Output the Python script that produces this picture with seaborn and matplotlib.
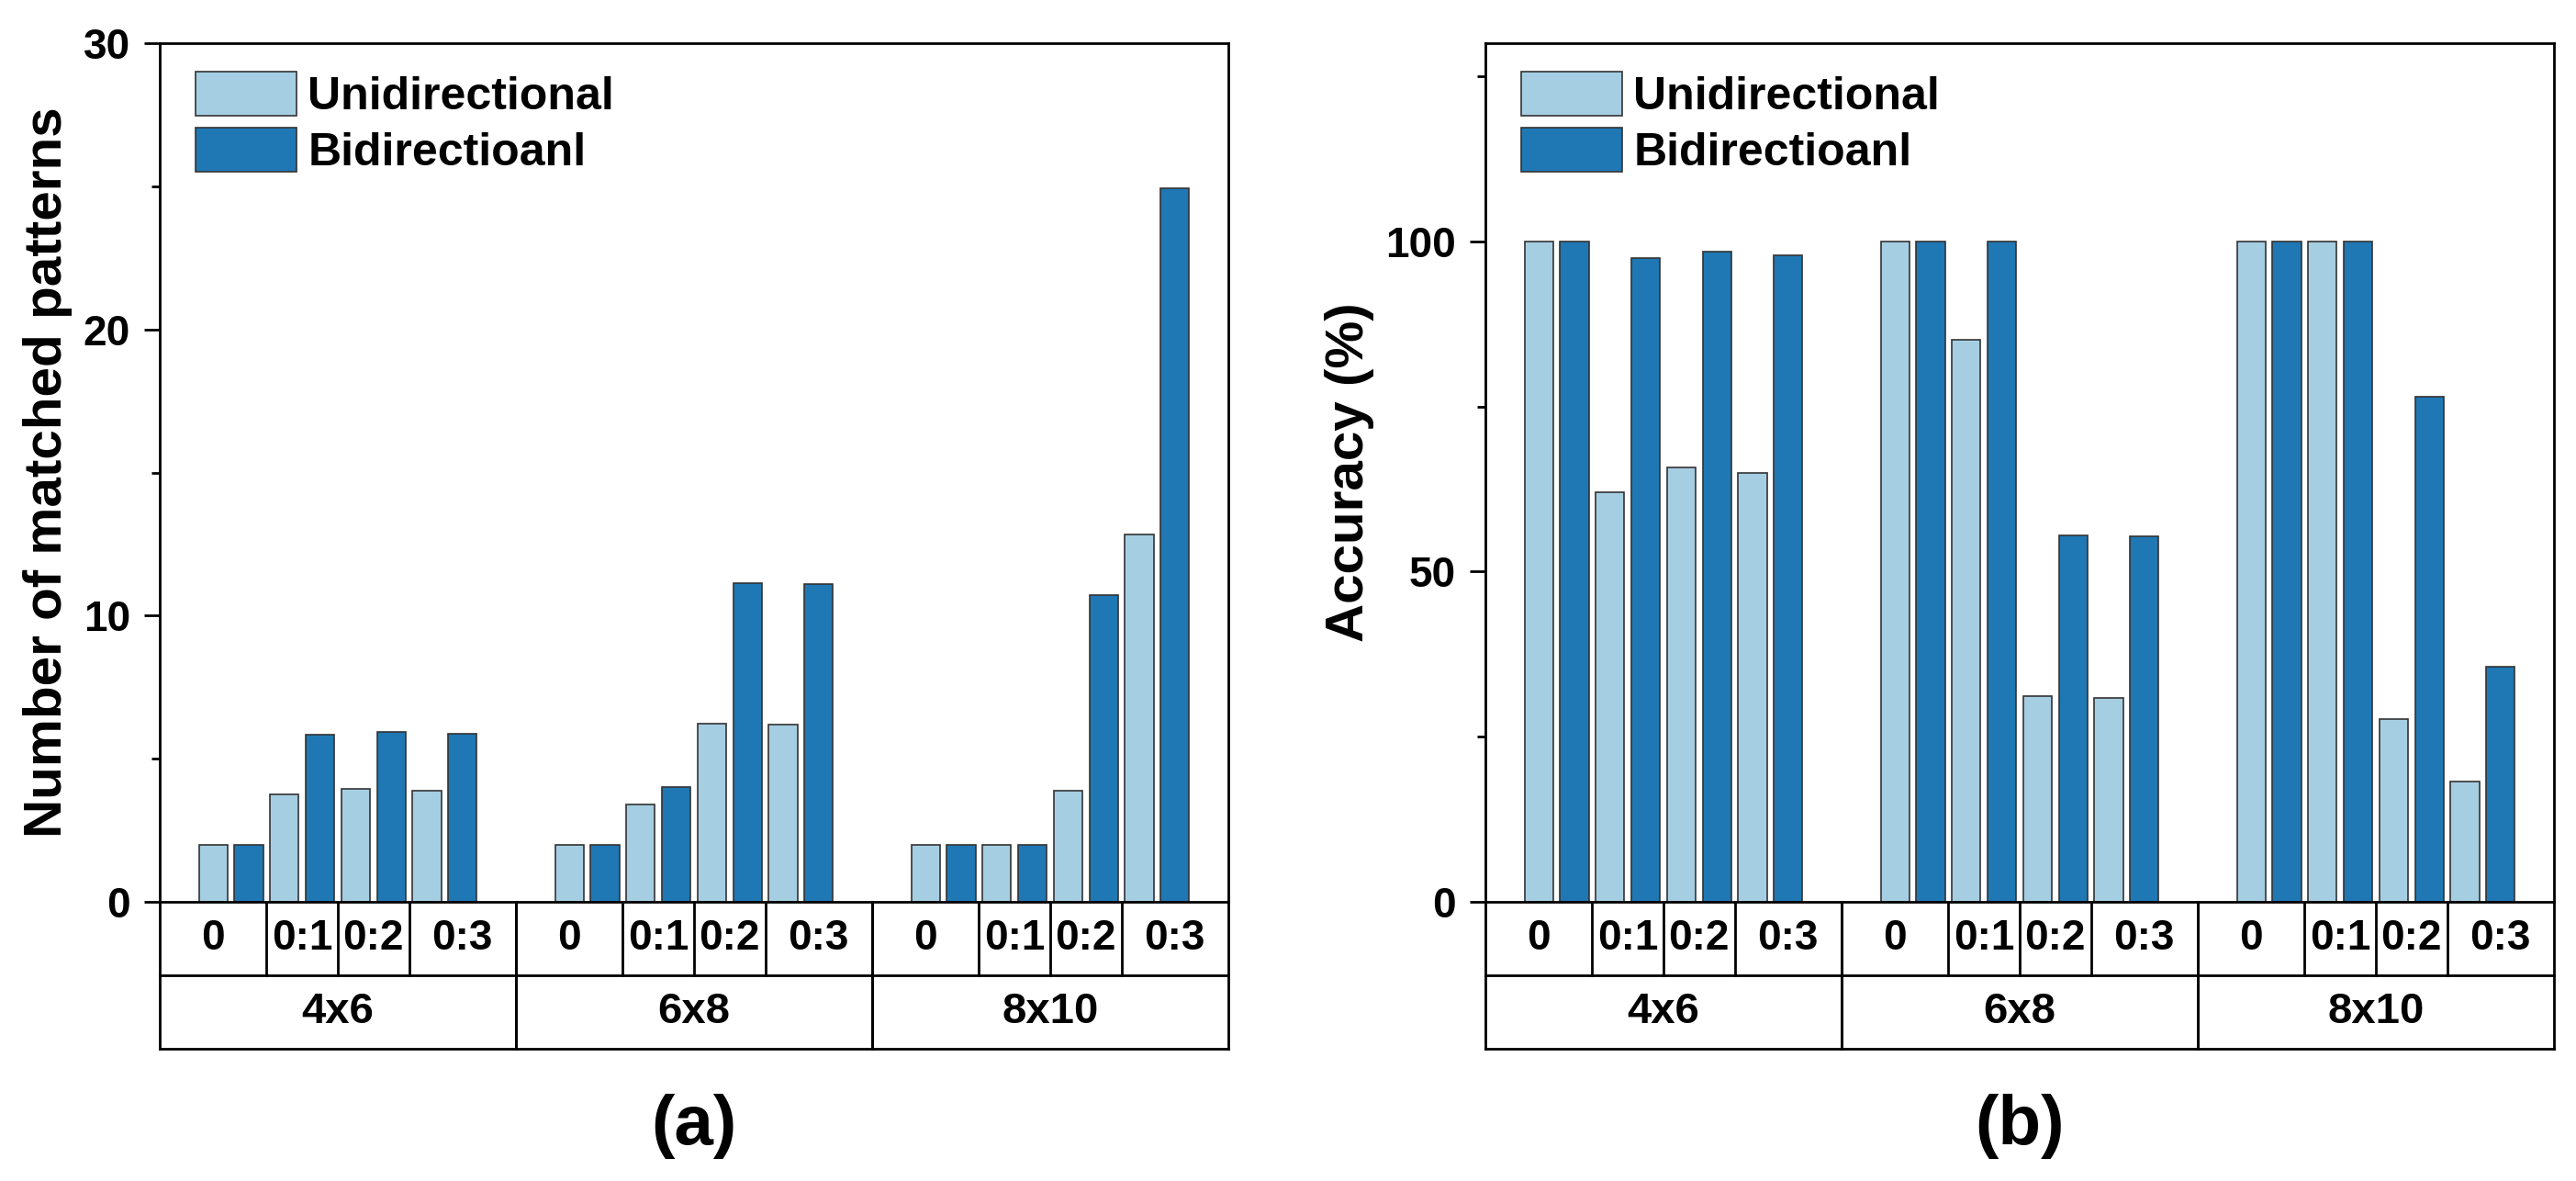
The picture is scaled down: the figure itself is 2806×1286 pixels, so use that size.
import numpy as np
import pandas as pd
import matplotlib
matplotlib.use("Agg")
import matplotlib.pyplot as plt
import matplotlib.transforms as mtransforms
import seaborn as sns

sizes = ["4x6", "6x8", "8x10"]
ratios = ["0", "0:1", "0:2", "0:3"]
directions = ["Unidirectional", "Bidirectioanl"]

# values read per size, ratio order 0, 0:1, 0:2, 0:3
matched_uni = [2.0, 3.74, 3.95, 3.89, 2.0, 3.39, 6.24, 6.18, 2.0, 2.0, 3.87, 12.82]
matched_bi = [2.0, 5.84, 5.92, 5.87, 2.0, 4.0, 11.13, 11.1, 2.0, 2.0, 10.71, 24.92]
acc_uni = [100, 62.0, 65.7, 64.9, 100, 85.1, 31.2, 30.9, 100, 100, 27.7, 18.2]
acc_bi = [100, 97.4, 98.5, 97.9, 100, 100, 55.5, 55.3, 100, 100, 76.5, 35.6]

colors = ["#a6cee3", "#1f78b4"]

rows = []
for g, size in enumerate(sizes):
    for s, r in enumerate(ratios):
        i = g * 4 + s
        pos = g * 5 + s  # one empty slot between size groups
        rows.append([size, r, pos, directions[0], matched_uni[i], acc_uni[i]])
        rows.append([size, r, pos, directions[1], matched_bi[i], acc_bi[i]])
df = pd.DataFrame(rows, columns=["size", "ratio", "pos", "direction", "matched", "accuracy"])

sns.set_theme(style="ticks")
plt.rcParams["font.family"] = ["Liberation Sans", "DejaVu Sans"]
plt.rcParams["font.weight"] = "bold"
for k in ["text.color", "axes.labelcolor", "xtick.color", "ytick.color", "axes.edgecolor"]:
    plt.rcParams[k] = "black"

W, H = 2806, 1286
fig = plt.figure(figsize=(W / 100, H / 100), dpi=100)
ax1 = fig.add_axes([174 / W, (H - 982) / H, 1164 / W, 935 / H])
ax2 = fig.add_axes([1618 / W, (H - 982) / H, 1164 / W, 935 / H])

ROW1 = 80 / 935
ROW2 = 160 / 935
FS = 33


def draw_table(ax):
    trans = mtransforms.blended_transform_factory(ax.transData, ax.transAxes)
    kw = dict(color="black", lw=2, clip_on=False, transform=trans, solid_capstyle="projecting")
    ax.plot([-1, 14], [-ROW1, -ROW1], **kw)
    ax.plot([-1, 14], [-ROW2, -ROW2], **kw)
    for g, size in enumerate(sizes):
        edges = [5 * g - 1, 5 * g + 0.5, 5 * g + 1.5, 5 * g + 2.5, 5 * g + 4]
        ax.plot([edges[0], edges[0]], [0, -ROW2], **kw)
        ax.plot([edges[-1], edges[-1]], [0, -ROW2], **kw)
        for e in edges[1:-1]:
            ax.plot([e, e], [0, -ROW1], **kw)
        for s, r in enumerate(ratios):
            ax.text((edges[s] + edges[s + 1]) / 2, -ROW1 / 2, r, transform=trans,
                    ha="center", va="center", fontsize=FS, fontweight="bold")
        ax.text(5 * g + 1.5, -(ROW1 + ROW2) / 2, size, transform=trans,
                ha="center", va="center", fontsize=FS + 1, fontweight="bold")


def style_axes(ax, ycol, ylabel, ymax, major, minor, label_x):
    sns.barplot(data=df, x="pos", y=ycol, hue="direction", native_scale=True,
                palette=colors, saturation=1, width=1.0, gap=0.2,
                edgecolor="#333333", linewidth=1.2, ax=ax)
    ax.set_xlim(-1, 14)
    ax.set_ylim(0, ymax)
    ax.set_xticks([])
    ax.set_xlabel("")
    ax.set_yticks(major)
    ax.set_yticks(minor, minor=True)
    ax.tick_params(axis="y", which="major", direction="out", length=12, width=2,
                   labelsize=FS, pad=11)
    ax.tick_params(axis="y", which="minor", direction="out", length=6.5, width=2)
    for lab in ax.get_yticklabels():
        lab.set_fontweight("bold")
    for sp in ax.spines.values():
        sp.set_visible(True)
        sp.set_linewidth(2)
        sp.set_color("black")
    ax.set_ylabel(ylabel, fontsize=42, fontweight="bold")
    ax.yaxis.set_label_coords(label_x, 0.5)
    sns.move_legend(ax, "upper left", bbox_to_anchor=(0.0335, 0.967), title=None,
                    frameon=False, fontsize=36, handlelength=2.2, handleheight=1.1,
                    handletextpad=0.25, labelspacing=0.2, borderaxespad=0, borderpad=0)
    for t in ax.get_legend().get_texts():
        t.set_fontweight("bold")
    draw_table(ax)


style_axes(ax1, "matched", "Number of matched patterns", 30, [0, 10, 20, 30], [5, 15, 25], -0.0816)
style_axes(ax2, "accuracy", "Accuracy (%)", 130, [0, 50, 100], [25, 75, 125], -0.104)

fig.text((174 + 582) / W, 1 - 1226 / H, "(a)", ha="center", va="center", fontsize=55, fontweight="bold")
fig.text((1618 + 582) / W, 1 - 1226 / H, "(b)", ha="center", va="center", fontsize=55, fontweight="bold")

fig.savefig("out.png", dpi=100, facecolor="white")
